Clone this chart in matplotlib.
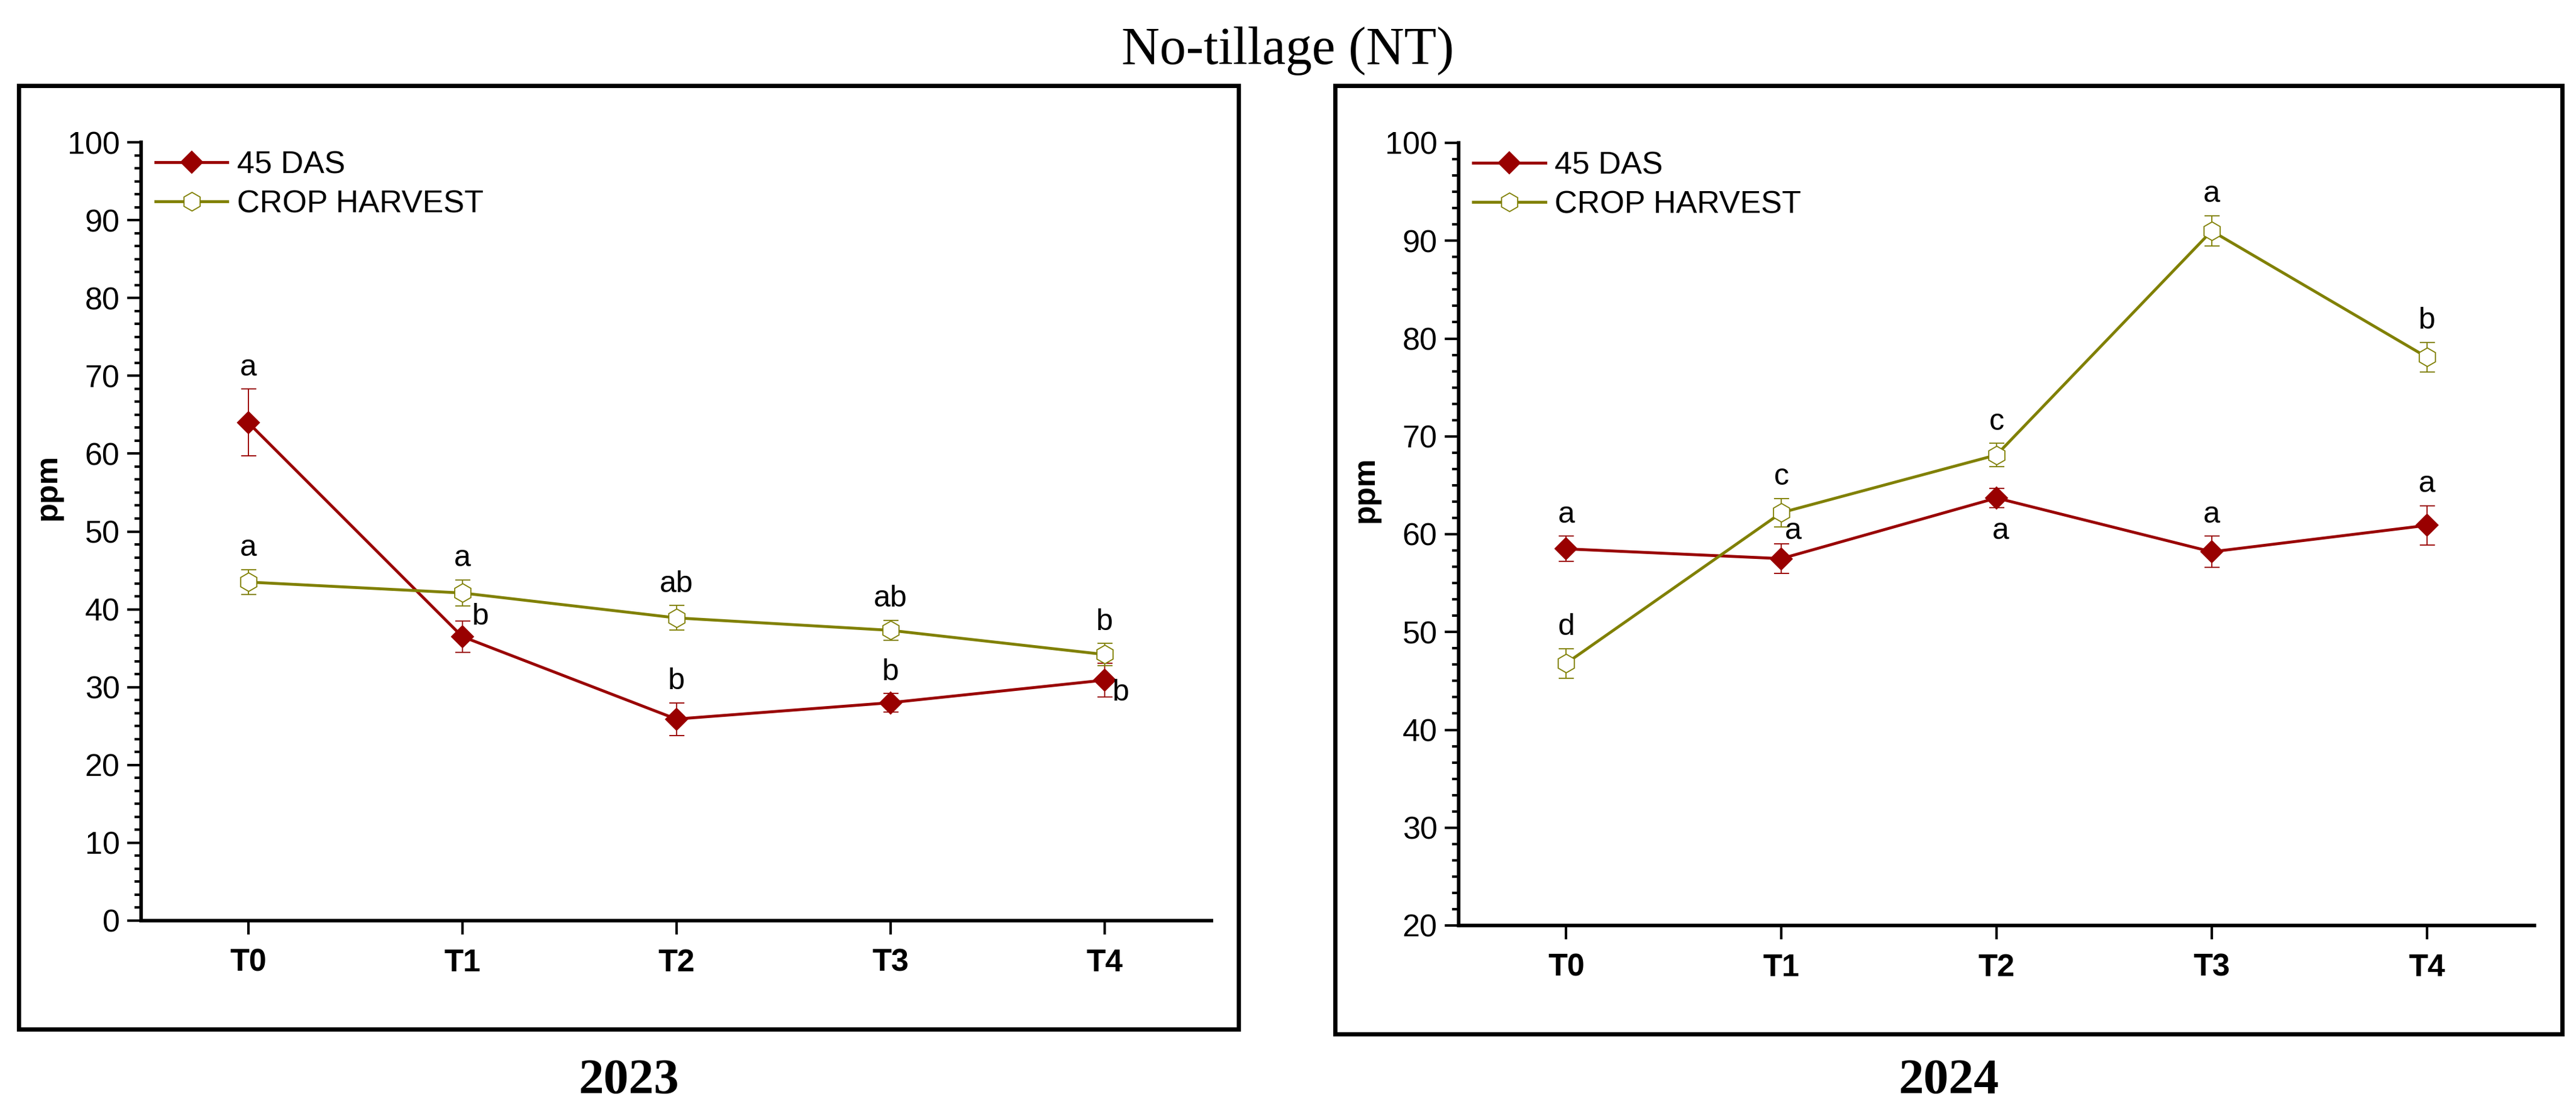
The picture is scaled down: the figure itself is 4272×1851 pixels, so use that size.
import matplotlib
matplotlib.use("Agg")
import matplotlib.pyplot as plt
from matplotlib.patches import Rectangle
from matplotlib.ticker import MultipleLocator, AutoMinorLocator

plt.rcParams['font.family'] = ['Liberation Sans', 'DejaVu Sans']

# data
treatments = ["T0", "T1", "T2", "T3", "T4"]
series_names = ["45 DAS", "CROP HARVEST"]
years = ["2023", "2024"]

das_2023 = [64.0, 36.5, 25.9, 28.0, 30.9]
das_2023_err = [4.3, 2.0, 2.1, 1.2, 2.2]
harvest_2023 = [43.5, 42.1, 38.9, 37.3, 34.2]
harvest_2023_err = [1.6, 1.7, 1.6, 1.3, 1.4]

das_2024 = [58.5, 57.5, 63.7, 58.2, 60.9]
das_2024_err = [1.3, 1.5, 1.0, 1.6, 2.0]
harvest_2024 = [46.8, 62.2, 68.1, 91.0, 78.1]
harvest_2024_err = [1.5, 1.45, 1.2, 1.55, 1.5]

das_2023_letters = ["a", "b", "b", "b", "b"]
harvest_2023_letters = ["a", "a", "ab", "ab", "b"]
das_2024_letters = ["a", "a", "a", "a", "a"]
harvest_2024_letters = ["d", "c", "c", "a", "b"]

ylims = {"2023": (0, 100), "2024": (20, 100)}

# styling
red = "#990000"
olive = "#808000"
styles = {
    "45 DAS": dict(color=red, marker="D", ms=6.2, mfc=red, mec=red, mew=0.5),
    "CROP HARVEST": dict(color=olive, marker="h", ms=7.4, mfc="white", mec=olive, mew=0.45),
}
# letters that don't sit right above the error bar: (dx pt, dy pt from point, va)
special_letters = {
    ("2023", "45 DAS", 1): (7.2, 2.4, "bottom"),
    ("2023", "45 DAS", 4): (6.5, 0.5, "top"),
    ("2024", "45 DAS", 1): (4.6, 5.5, "bottom"),
    ("2024", "45 DAS", 2): (1.7, -7.7, "top"),
}

data = {
    "2023": {"45 DAS": (das_2023, das_2023_err, das_2023_letters),
             "CROP HARVEST": (harvest_2023, harvest_2023_err, harvest_2023_letters)},
    "2024": {"45 DAS": (das_2024, das_2024_err, das_2024_letters),
             "CROP HARVEST": (harvest_2024, harvest_2024_err, harvest_2024_letters)},
}

W, H = 4272, 1851
fig = plt.figure(figsize=(W / 300, H / 300), dpi=300)

# axes rectangles in pixels: left, right, top, bottom
ax_px = {"2023": (234, 2009, 236, 1527), "2024": (2419, 4203, 237, 1535)}
box_px = {"2023": (31, 2054, 142, 1707), "2024": (2214, 4249, 142, 1715)}

x = list(range(len(treatments)))

for yr in years:
    l, r, t, b = ax_px[yr]
    ax = fig.add_axes([l / W, 1 - b / H, (r - l) / W, (b - t) / H])
    for name in series_names:
        vals, errs, letters = data[yr][name]
        st = styles[name]
        ax.errorbar(x, vals, yerr=errs, fmt="none", ecolor=st["color"],
                    elinewidth=0.45, capsize=3, capthick=0.45, zorder=2)
        ax.plot(x, vals, lw=1.15, label=name, zorder=3, **st)
        for i, lab in enumerate(letters):
            key = (yr, name, i)
            if key in special_letters:
                dx, dy, va = special_letters[key]
                ax.annotate(lab, (x[i], vals[i]), xytext=(dx, dy),
                            textcoords="offset points", ha="center", va=va,
                            fontsize=12)
            else:
                ax.annotate(lab, (x[i], vals[i] + errs[i]), xytext=(0, 3),
                            textcoords="offset points", ha="center",
                            va="bottom", fontsize=12)

    ax.set_xlim(-0.5, 4.5)
    ax.set_ylim(*ylims[yr])
    ax.set_xticks(x)
    ax.set_xticklabels(treatments, fontweight="bold")
    ax.yaxis.set_major_locator(MultipleLocator(10))
    ax.yaxis.set_minor_locator(AutoMinorLocator(6))
    for side in ("top", "right"):
        ax.spines[side].set_visible(False)
    for side in ("left", "bottom"):
        ax.spines[side].set_linewidth(1.4)
    ax.tick_params(axis="both", which="major", length=5.5, width=1.0,
                   labelsize=12.5, direction="out")
    ax.tick_params(axis="y", which="minor", length=2.6, width=1.0)
    ax.tick_params(axis="y", pad=3)
    ax.tick_params(axis="x", pad=5.5)
    ax.text(-0.087, 0.557, "ppm", transform=ax.transAxes, rotation=90,
            ha="center", va="center", fontsize=12.5, fontweight="bold")
    ax.legend(loc="upper left", bbox_to_anchor=(0.006, 1.0), frameon=False,
              fontsize=12.5, numpoints=1, handlelength=2.3, handletextpad=0.3,
              labelspacing=0.32, borderpad=0.25, borderaxespad=0)

    bl, br, bt, bb = box_px[yr]
    fig.add_artist(Rectangle((bl / W, 1 - bb / H), (br - bl) / W, (bb - bt) / H,
                             transform=fig.transFigure, fill=False,
                             lw=1.7, edgecolor="black"))
    fig.text((bl + br) / 2 / W, 1 - 1813 / H, yr, ha="center", va="baseline",
             family="Liberation Serif", fontweight="bold", fontsize=20)

fig.text(0.5, 1 - 106 / H, "No-tillage (NT)", ha="center", va="baseline",
         family="Liberation Serif", fontsize=21)

fig.savefig("out.png", dpi=300, facecolor="white")
